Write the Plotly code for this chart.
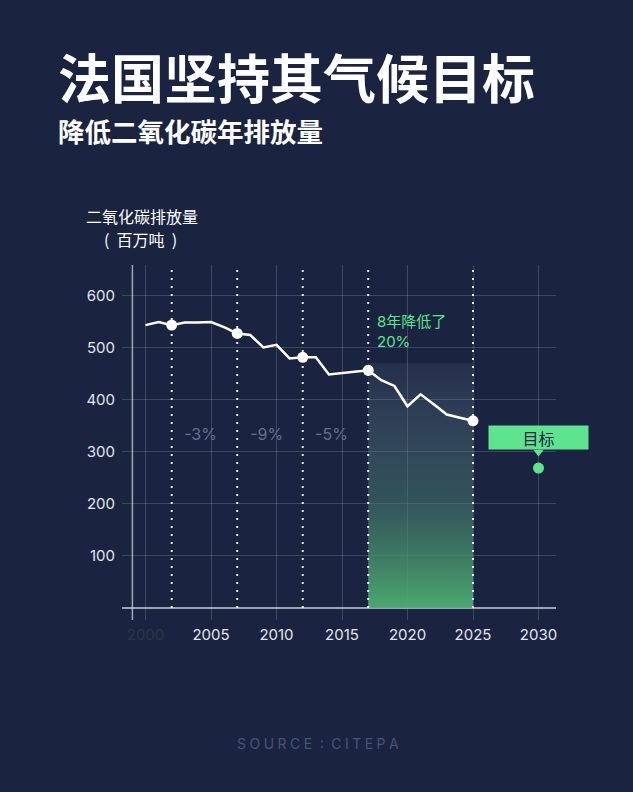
import plotly.graph_objects as go

# ---------------- data ----------------
years = list(range(2000, 2026))
emissions = [544, 550, 544, 549, 549, 550, 540, 528, 525, 501, 506, 480, 482,
             482, 449, 452, 454, 457, 438, 427, 388, 411, 392, 372, 366, 360]

milestone_years = [2002, 2007, 2012, 2017, 2025]
change_labels = ["-3%", "-9%", "-5%"]
change_x = [2004.2, 2009.25, 2014.2]
change_y = [331, 331, 331]

highlight_years = [2017, 2025]
highlight_top = 471

target_year = 2030
target_value = 269

x_tickvals = [2000, 2005, 2010, 2015, 2020, 2025, 2030]
x_ticktext = ['<span style="color:#2c3449">2000</span>', "2005", "2010", "2015", "2020", "2025", "2030"]
y_tickvals = [100, 200, 300, 400, 500, 600]
y_ticktext = ["100", "200", "300", "400", "500", "600"]

title = "法国坚持其气候目标"
subtitle = "降低二氧化碳年排放量"
y_title1 = "二氧化碳排放量"
y_title2 = "(  百万吨  )"
note_text = "8年降低了<br>20%"
target_label = "目标"
source = "\u2005".join("SOURCE") + "\u2005 :\u2005 " + "\u2005".join("CITEPA")

# ---------------- layout geometry ----------------
W, H = 633, 792
L, R, T, B = 122, 556, 265, 620
XR = [1998.206, 2031.336]
YR = [-23.1, 659.6]

BG = "rgb(26,36,64)"
GREEN = "rgb(94,228,143)"
FONT = "Inter, 'Noto Sans CJK SC', sans-serif"
CJK = "'Noto Sans CJK SC', sans-serif"


def px(x, y):
    return (x - L) / (R - L), (H - y - (H - B)) / (B - T)


fig = go.Figure()

# gradient highlight area
hx0, hx1 = highlight_years
fig.add_trace(go.Scatter(
    x=[hx0, hx1, hx1, hx0, hx0], y=[0, 0, highlight_top, highlight_top, 0],
    mode="lines", fill="toself", line=dict(width=0),
    fillgradient=dict(type="vertical",
                      colorscale=[[0, "rgba(76,172,112,0.97)"],
                                  [0.45, "rgba(70,120,110,0.55)"],
                                  [1, "rgba(110,130,155,0.13)"]]),
    hoverinfo="skip", showlegend=False))

# dotted milestone lines
dx, dy = [], []
for yr in milestone_years:
    dx += [yr, yr, None]
    dy += [0, 652, None]
fig.add_trace(go.Scatter(x=dx, y=dy, mode="lines",
                         line=dict(color="rgba(255,255,255,0.9)", width=2, dash="2px,6px"),
                         hoverinfo="skip", showlegend=False))

# emissions line
fig.add_trace(go.Scatter(x=years, y=emissions, mode="lines",
                         line=dict(color="white", width=2.5),
                         hoverinfo="skip", showlegend=False))

# milestone markers
fig.add_trace(go.Scatter(x=milestone_years,
                         y=[emissions[years.index(y)] for y in milestone_years],
                         mode="markers",
                         marker=dict(color="white", size=11),
                         hoverinfo="skip", showlegend=False))

# target marker and pointer
fig.add_trace(go.Scatter(x=[target_year], y=[target_value], mode="markers",
                         marker=dict(color=GREEN, size=11),
                         hoverinfo="skip", showlegend=False))
fig.add_trace(go.Scatter(x=[target_year], y=[300], mode="markers",
                         marker=dict(color=GREEN, size=9, symbol="triangle-down"),
                         hoverinfo="skip", showlegend=False))

# change labels
fig.add_trace(go.Scatter(x=change_x, y=change_y, mode="text", text=change_labels,
                         textfont=dict(family=FONT, size=16, color="rgb(100,112,140)"),
                         hoverinfo="skip", showlegend=False))

# y-axis line
fig.add_shape(type="line", x0=1999, x1=1999, y0=0, y1=1, xref="x", yref="paper",
              line=dict(color="rgba(215,222,236,0.7)", width=1.5), layer="below")

annotations = []
tx, ty = px(56, 76)
annotations.append(dict(text=f"<b>{title}</b>", x=tx, y=ty, xref="paper", yref="paper",
                        xanchor="left", yanchor="middle", showarrow=False,
                        font=dict(family=CJK, size=53, color="white")))
tx, ty = px(56, 130)
annotations.append(dict(text=f"<b>{subtitle}</b>", x=tx, y=ty, xref="paper", yref="paper",
                        xanchor="left", yanchor="middle", showarrow=False,
                        font=dict(family=CJK, size=26.5, color="white")))
tx, ty = px(84, 216)
annotations.append(dict(text=y_title1, x=tx, y=ty, xref="paper", yref="paper",
                        xanchor="left", yanchor="middle", showarrow=False,
                        font=dict(family=CJK, size=16, color="white")))
tx, ty = px(140, 239)
annotations.append(dict(text=y_title2, x=tx, y=ty, xref="paper", yref="paper",
                        xanchor="center", yanchor="middle", showarrow=False,
                        font=dict(family=CJK, size=16, color="white")))
annotations.append(dict(text=note_text, x=2017.55, y=531, xref="x", yref="y",
                        xanchor="left", yanchor="middle", align="left", showarrow=False,
                        font=dict(family=FONT, size=15, color=GREEN)))
annotations.append(dict(text=target_label, x=target_year, y=327, xref="x", yref="y",
                        xanchor="center", yanchor="middle", showarrow=False,
                        width=95, height=19, bgcolor=GREEN, borderpad=2,
                        font=dict(family=CJK, size=16, color=BG)))
tx, ty = px(318, 743)
annotations.append(dict(text=source, x=tx, y=ty, xref="paper", yref="paper",
                        xanchor="center", yanchor="middle", showarrow=False,
                        font=dict(family=FONT, size=14, color="rgb(72,84,116)")))

fig.update_layout(
    width=W, height=H,
    margin=dict(l=L, r=W - R, t=T, b=H - B),
    paper_bgcolor=BG, plot_bgcolor=BG,
    showlegend=False,
    annotations=annotations,
    xaxis=dict(range=XR, tickvals=x_tickvals, ticktext=x_ticktext,
               showgrid=True, gridcolor="rgba(255,255,255,0.17)", gridwidth=1,
               zeroline=False, showline=False, ticks="",
               tickfont=dict(family=FONT, size=15, color="rgb(225,228,236)"),
               ticklabelstandoff=4, fixedrange=True),
    yaxis=dict(range=YR, tickvals=y_tickvals, ticktext=y_ticktext,
               showgrid=True, gridcolor="rgba(255,255,255,0.17)", gridwidth=1,
               zeroline=True, zerolinecolor="rgba(210,218,235,0.7)", zerolinewidth=1.5,
               showline=False, ticks="",
               tickfont=dict(family=FONT, size=15, color="rgb(225,228,236)"),
               ticklabelstandoff=6, fixedrange=True),
)

fig.write_html("out.html")
